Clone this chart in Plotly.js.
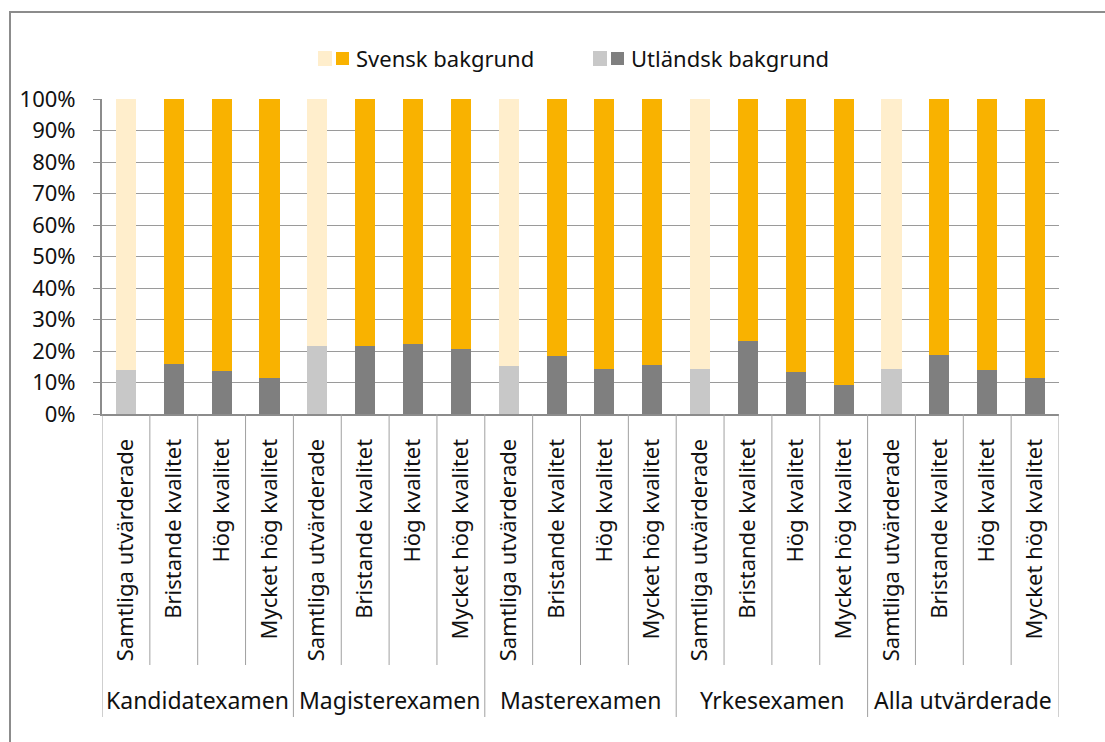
<!DOCTYPE html>
<html>
<head>
<meta charset="utf-8">
<script src="https://cdn.plot.ly/plotly-3.0.1.min.js"></script>
<style>html,body{margin:0;padding:0;background:#fff;}#chart{width:1105px;height:742px;}</style>
</head>
<body>
<div id="chart"></div>
<script>
// ---- data ----
const groups = ["Kandidatexamen", "Magisterexamen", "Masterexamen", "Yrkesexamen", "Alla utvärderade"];
const subcats = ["Samtliga utvärderade", "Bristande kvalitet", "Hög kvalitet", "Mycket hög kvalitet"];
const utlandsk = [14.0, 15.9, 13.8, 11.3,  21.7, 21.6, 22.1, 20.5,  15.3, 18.4, 14.4, 15.7,  14.3, 23.3, 13.3, 9.1,  14.3, 18.6, 13.9, 11.5];
const svensk   = [86.0, 84.1, 86.2, 88.7,  78.3, 78.4, 77.9, 79.5,  84.7, 81.6, 85.6, 84.3,  85.7, 76.7, 86.7, 90.9,  85.7, 81.4, 86.1, 88.5];
const legendNames = ["Svensk bakgrund", "Utländsk bakgrund"];

// ---- styles ----
const FONT = "Noto Sans, Open Sans, sans-serif";
const GRAY = "#8c8c8c";
const C_SV_LIGHT = "#FFEECC", C_SV = "#F9B200", C_UT_LIGHT = "#C8C8C8", C_UT = "#7F7F7F";

const xs = [], ticktext = [], colUt = [], colSv = [];
groups.forEach((g, gi) => subcats.forEach((s, si) => {
  xs.push(gi * subcats.length + si);
  ticktext.push(s);
  colUt.push(si === 0 ? C_UT_LIGHT : C_UT);
  colSv.push(si === 0 ? C_SV_LIGHT : C_SV);
}));

const traces = [
  {type: "bar", x: xs, y: utlandsk, name: legendNames[1], marker: {color: colUt}, showlegend: false, hoverinfo: "y"},
  {type: "bar", x: xs, y: svensk, name: legendNames[0], marker: {color: colSv}, showlegend: false, hoverinfo: "y"}
];

// plot area in px: left 102, right 1059, top 99, bottom 414
const L = 102, R = 1059, T = 99, B = 414;
const px2x = p => (p - L) / (R - L);
const py2y = p => (B - p) / (B - T);

const shapes = [];
// outer border
shapes.push({type: "rect", xref: "paper", yref: "paper", x0: px2x(10), x1: px2x(1130), y0: py2y(12), y1: py2y(770), line: {color: GRAY, width: 2}, layer: "below"});
// category separators
for (let i = 0; i <= xs.length; i++) {
  const isGroup = i % subcats.length === 0;
  shapes.push({type: "line", xref: "x", yref: "paper", x0: i - 0.5, x1: i - 0.5, y0: 0, y1: py2y(isGroup ? 717 : 665), line: {color: "#a0a0a0", width: 1}});
}

const annotations = [];
groups.forEach((g, gi) => {
  annotations.push({xref: "x", yref: "paper", x: gi * subcats.length + (subcats.length - 1) / 2, y: py2y(700), text: g, showarrow: false, xanchor: "center", yanchor: "middle", font: {family: FONT, size: 23, color: "#111"}});
});

// manual legend
const legItems = [
  {cols: [C_SV_LIGHT, C_SV], x: 318, text: legendNames[0]},
  {cols: [C_UT_LIGHT, C_UT], x: 593, text: legendNames[1]}
];
legItems.forEach(it => {
  shapes.push({type: "rect", xref: "paper", yref: "paper", x0: px2x(it.x), x1: px2x(it.x + 14), y0: py2y(66), y1: py2y(51), fillcolor: it.cols[0], line: {width: 0}});
  shapes.push({type: "rect", xref: "paper", yref: "paper", x0: px2x(it.x + 18), x1: px2x(it.x + 31), y0: py2y(65), y1: py2y(52), fillcolor: it.cols[1], line: {width: 0}});
  annotations.push({xref: "paper", yref: "paper", x: px2x(it.x + 36), y: py2y(58), text: it.text, showarrow: false, xanchor: "left", yanchor: "middle", font: {family: FONT, size: 22, color: "#111"}});
});

const layout = {
  width: 1105, height: 742,
  margin: {l: L, r: 1105 - R, t: T, b: 742 - B, pad: 0},
  paper_bgcolor: "#fff", plot_bgcolor: "#fff",
  barmode: "stack", bargap: 0.58,
  font: {family: FONT, size: 22, color: "#111"},
  showlegend: false,
  xaxis: {
    range: [-0.5, xs.length - 0.5], tickmode: "array", tickvals: xs, ticktext: ticktext,
    tickangle: -90, ticks: "", ticklabelstandoff: 14, showline: true, linecolor: GRAY, linewidth: 2,
    showgrid: false, zeroline: false, tickfont: {family: FONT, size: 22, color: "#111"}
  },
  yaxis: {
    range: [0, 100], dtick: 10, ticksuffix: "%", ticks: "outside", ticklen: 7, tickcolor: GRAY, tickwidth: 1,
    showline: true, linecolor: GRAY, linewidth: 2, showgrid: true, gridcolor: "#9a9a9a", gridwidth: 1,
    zeroline: false, ticklabelstandoff: 13, tickfont: {family: FONT, size: 22, color: "#111"}
  },
  shapes: shapes,
  annotations: annotations
};

Plotly.newPlot("chart", traces, layout, {displayModeBar: false, staticPlot: true});
</script>
</body>
</html>
